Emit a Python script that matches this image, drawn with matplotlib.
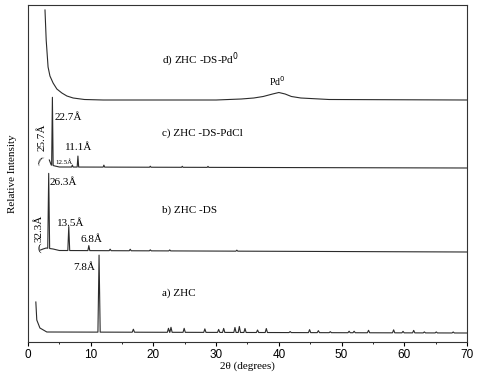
import numpy as np
import matplotlib
matplotlib.use('Agg')
import matplotlib.pyplot as plt
from matplotlib.ticker import MultipleLocator

plt.rcParams['font.family'] = ['Liberation Serif', 'DejaVu Serif']

# ---- data (intensity in arbitrary units above each trace's baseline) ----
# a) ZHC
a_bg_x = [1.25, 1.4, 1.9, 3.0, 70.0]
a_bg_y = [31, 13, 5, 1, 0]
a_pk_x = [11.33, 16.8, 22.4, 22.8, 24.9, 28.2, 30.4, 31.2, 33.0, 33.7, 34.6, 36.6, 38.0,
          41.8, 44.9, 46.3, 48.2, 51.2, 52.0, 54.3, 58.3, 59.8, 61.5, 63.2, 65.1, 67.8]
a_pk_y = [77, 3, 4, 5, 4, 3.5, 3, 4, 5, 6, 4, 2.5, 4,
          1, 3, 2, 1, 1.5, 1.5, 2.5, 3, 1.5, 2.5, 1, 1, 1]

# b) ZHC-DS
b_bg_x = [2.0, 2.4, 2.9, 4.0, 5.0, 70.0]
b_bg_y = [2, 3, 4, 3, 1.5, 0]
b_pk_x = [3.3, 6.5, 9.7, 13.1, 16.3, 19.5, 22.6, 33.3]
b_pk_y = [75, 24, 5, 1.5, 1.5, 1, 1, 1]

# c) ZHC-DS-PdCl
c_bg_x = [3.4, 3.7, 4.3, 5.0, 70.0]
c_bg_y = [8, 3, 2, 1, 0]
c_pk_x = [3.89, 7.07, 7.96, 12.1, 19.5, 24.6, 28.7]
c_pk_y = [68, 2, 11, 2, 1, 1, 1]

# d) ZHC-DS-Pd0 (broad Pd0 reflection near 40 deg)
d_x = [2.71, 2.9, 3.2, 3.5, 4.0, 4.6, 5.4, 6.2, 7.2, 9.0, 12.0, 30, 34, 36, 37.5, 39, 40,
       41, 42, 43.5, 45, 48, 70]
d_y = [90, 60, 33, 24, 17, 11, 7, 4, 2, 0.5, 0, 0, 1, 2, 3.5, 6, 7.5,
       6, 3.5, 2, 1.5, 0.5, 0]

offsets = {'a': 9, 'b': 90, 'c': 174, 'd': 242}


def build_trace(bx, by, px, py, hw):
    xs = list(bx)
    ys = list(by)
    for c, h in zip(px, py):
        xs += [c - hw, c, c + hw]
        ys += [np.interp(c - hw, bx, by), np.interp(c, bx, by) + h, np.interp(c + hw, bx, by)]
    order = np.argsort(xs)
    return np.array(xs)[order], np.array(ys)[order]


fig = plt.figure(figsize=(4.81, 3.75), dpi=100)
ax = fig.add_axes([28 / 481, 33 / 375, 439 / 481, 337 / 375])

lc = '#2b2b2b'
xa, ya = build_trace(a_bg_x, a_bg_y, a_pk_x, a_pk_y, 0.18)
xb, yb = build_trace(b_bg_x, b_bg_y, b_pk_x, b_pk_y, 0.15)
xc, yc = build_trace(c_bg_x, c_bg_y, c_pk_x, c_pk_y, 0.12)
ax.plot(xa, ya + offsets['a'], color=lc, lw=0.8)
ax.plot(xb, yb + offsets['b'], color=lc, lw=0.8)
ax.plot(xc, yc + offsets['c'], color=lc, lw=0.8)
ax.plot(d_x, np.array(d_y) + offsets['d'], color=lc, lw=0.8)

fs = 8
ax.text(21.4, 282, 'd) ZHC -DS-Pd$^0$', fontsize=fs, va='center')
ax.text(39.7, 261, 'Pd$^0$', fontsize=7, va='center', ha='center')
ax.text(21.4, 209, 'c) ZHC -DS-PdCl', fontsize=fs, va='center')
ax.text(21.4, 132, 'b) ZHC -DS', fontsize=fs, va='center')
ax.text(21.4, 49, 'a) ZHC', fontsize=fs, va='center')

ax.text(4.3, 225, '22.7Å', fontsize=fs, va='center')
ax.text(2.2, 205, '25.7Å', fontsize=fs, va='center', ha='center', rotation=90)
ax.text(1.9, 181, '(', fontsize=fs, va='center', ha='center', rotation=-30)
ax.text(5.9, 195, '11.1Å', fontsize=fs, va='center')
ax.text(4.3, 180, '12.5Å', fontsize=5, va='center')

ax.text(3.5, 160, '26.3Å', fontsize=fs, va='center')
ax.text(1.75, 114, '32.3Å', fontsize=fs, va='center', ha='center', rotation=90)
ax.text(1.8, 94, '(', fontsize=fs, va='center', ha='center')
ax.text(4.6, 119, '13.5Å', fontsize=fs, va='center')
ax.text(8.3, 102, '6.8Å', fontsize=fs, va='center')
ax.text(7.2, 75, '7.8Å', fontsize=fs, va='center')

ax.set_xlim(0, 70)
ax.set_ylim(0, 337)
ax.set_xticks([0, 10, 20, 30, 40, 50, 60, 70])
ax.xaxis.set_minor_locator(MultipleLocator(5))
ax.set_yticks([])
ax.tick_params(axis='x', which='major', direction='out', length=3, width=0.8, labelsize=8.5, pad=2)
ax.tick_params(axis='x', which='minor', direction='out', length=1.5, width=0.6)
for lab in ax.get_xticklabels():
    lab.set_family(['Liberation Sans', 'DejaVu Sans'])
for sp in ax.spines.values():
    sp.set_linewidth(0.8)
    sp.set_color('#333333')

ax.set_xlabel('2θ (degrees)', fontsize=fs, labelpad=0)
ax.set_ylabel('Relative Intensity', fontsize=fs, labelpad=8)

fig.savefig('out.png', dpi=100)
